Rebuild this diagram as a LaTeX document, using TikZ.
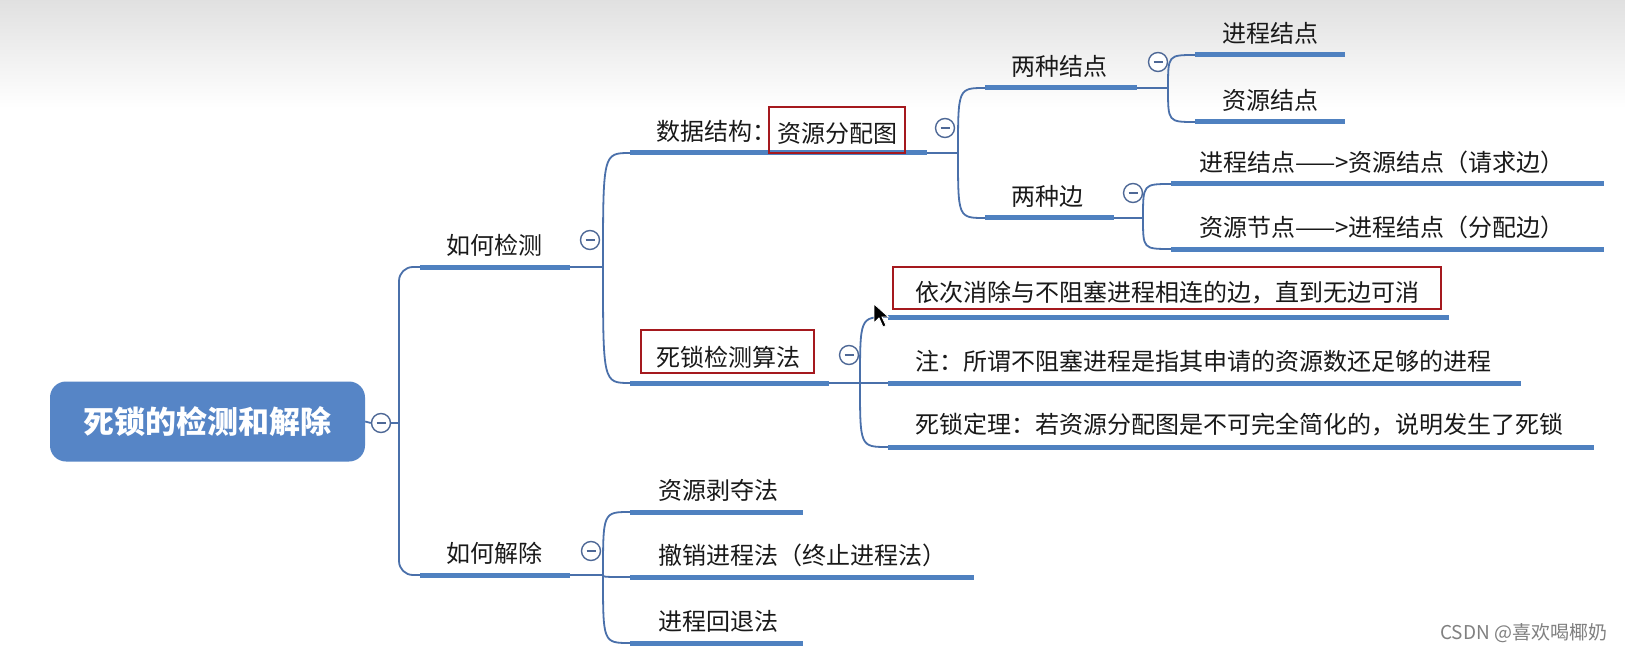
\documentclass[tikz,border=0pt]{standalone}
\usepackage{fontspec}
\setmainfont{Noto Sans CJK SC}
\usetikzlibrary{calc}
\definecolor{ulblue}{RGB}{79,129,192}
\definecolor{lnblue}{RGB}{74,112,170}
\definecolor{rootblue}{RGB}{86,133,198}
\definecolor{boxred}{RGB}{165,25,30}
\definecolor{circ}{RGB}{78,104,150}
\tikzset{
  lbl/.style={anchor=west, inner sep=0pt, font=\fontsize{24}{28}\selectfont, text=black!90},
  ctr/.style={anchor=center, inner sep=0pt, font=\fontsize{24}{28}\selectfont, text=black!90},
  ul/.style={line width=5pt, draw=ulblue},
  conn/.style={line width=1.8pt, draw=lnblue},
  fold/.style={circle, draw=circ, line width=1.4pt, fill=white, minimum size=19pt, inner sep=0pt,
    path picture={\draw[circ, line width=1.5pt] ($(path picture bounding box.center)+(-4.5pt,0)$) -- ($(path picture bounding box.center)+(4.5pt,0)$);}},
  redbox/.style={draw=boxred, line width=2pt, inner sep=0pt},
}
\newcommand\topic[6]{%
  \coordinate (#1-l) at (#2,#4); \coordinate (#1-r) at (#3,#4);
  \draw[ul] (#1-l) -- (#1-r);
  \node[lbl] (#1) at (#5,#4-22) {#6};}
\newcommand\ulbar[4]{%
  \coordinate (#1-l) at (#2,#4); \coordinate (#1-r) at (#3,#4);
  \draw[ul] (#1-l) -- (#1-r);}
\begin{document}
\begin{tikzpicture}[x=1pt,y=-1pt]
\useasboundingbox (0,0) rectangle (1625,655);
\fill[white] (0,0) rectangle (1625,655);
\shade[top color=black!12, bottom color=white] (0,0) rectangle (1625,108);

% root
\node[rectangle, rounded corners=16pt, fill=rootblue, minimum width=315pt, minimum height=80pt,
      text=white, font=\fontsize{31}{36}\selectfont\bfseries] (root) at (207.5,421.5) {死锁的检测和解除};
\node[fold] (c0) at (381,423) {};
\coordinate (tr) at (399,423);

% level 1
\topic{jc}{420}{570}{267}{446}{如何检测}
\topic{jx}{420}{570}{575}{446}{如何解除}

% level 2 under 如何检测
\topic{sj}{630}{927}{153}{656}{数据结构：}
\node[redbox, minimum width=136pt, minimum height=46pt] (sjbox) at (837,130) {};
\node[ctr] (sjt) at (837,133) {资源分配图};
\ulbar{sf}{630}{829}{383}
\node[redbox, minimum width=173pt, minimum height=43pt] (sfbox) at (727.5,351.5) {};
\node[ctr] (sf) at (728,357) {死锁检测算法};

% level 3 under 数据结构
\topic{ljd}{985}{1137}{88}{1011}{两种结点}
\topic{lb}{985}{1114}{218}{1011}{两种边}
\topic{jcd}{1195}{1345}{55}{1222}{进程结点}
\topic{zyd}{1195}{1345}{122}{1222}{资源结点}
\topic{qqb}{1171}{1604}{184}{1199}{进程结点——>资源结点（请求边）}
\topic{fpb}{1171}{1604}{249}{1199}{资源节点——>进程结点（分配边）}

% level 3 under 死锁检测算法
\ulbar{yc}{888}{1449}{317}
\node[redbox, minimum width=548pt, minimum height=42pt] (ycbox) at (1167,288) {};
\node[lbl] (yc) at (915,293) {依次消除与不阻塞进程相连的边，直到无边可消};
\topic{zhu}{888}{1521}{383}{915}{注：所谓不阻塞进程是指其申请的资源数还足够的进程}
\topic{dl}{888}{1594}{447}{915}{死锁定理：若资源分配图是不可完全简化的，说明发生了死锁}

% level 2 under 如何解除
\topic{bd}{630}{803}{512}{658}{资源剥夺法}
\topic{cx}{630}{974}{577}{658}{撤销进程法（终止进程法）}
\topic{ht}{630}{803}{643}{658}{进程回退法}

% connectors
\draw[conn] (root.east) -- (c0.west);
\draw[conn] (c0.east) -- (tr);
\draw[conn, rounded corners=14pt] (tr) |- (jc-l);
\draw[conn, rounded corners=14pt] (tr) |- (jx-l);

\coordinate (jc-j) at (603,267);
\draw[conn] (jc-r) -- (jc-j);
\foreach \c in {sj,sf} \draw[conn] (jc-j) .. controls (jc-j |- \c-l) .. (\c-l);

\coordinate (jx-j) at (603,575);
\draw[conn] (jx-r) -- (jx-j);
\foreach \c in {bd,cx,ht} \draw[conn] (jx-j) .. controls (jx-j |- \c-l) .. (\c-l);

\coordinate (sj-j) at (958,153);
\draw[conn] (sj-r) -- (sj-j);
\foreach \c in {ljd,lb} \draw[conn] (sj-j) .. controls (sj-j |- \c-l) .. (\c-l);

\coordinate (ljd-j) at (1168,88);
\draw[conn] (ljd-r) -- (ljd-j);
\foreach \c in {jcd,zyd} \draw[conn] (ljd-j) .. controls (ljd-j |- \c-l) .. (\c-l);

\coordinate (lb-j) at (1143,218);
\draw[conn] (lb-r) -- (lb-j);
\foreach \c in {qqb,fpb} \draw[conn] (lb-j) .. controls (lb-j |- \c-l) .. (\c-l);

\coordinate (sf-j) at (860,383);
\draw[conn] (sf-r) -- (sf-j);
\foreach \c in {yc,zhu,dl} \draw[conn] (sf-j) .. controls (sf-j |- \c-l) .. (\c-l);

% fold markers
\node[fold] (c1) at (590,240) {};
\node[fold] (c2) at (591,551) {};
\node[fold] (c3) at (945,128) {};
\node[fold] (c4) at (1158,62) {};
\node[fold] (c5) at (1133,193) {};
\node[fold] (c6) at (849,355) {};

% mouse pointer
\filldraw[fill=black, draw=white, line width=0.8pt] (874,304) -- (874,323) -- (879,318) -- (883,327) -- (886,325.5) -- (882,317) -- (888.5,317) -- cycle;

% watermark
\node[anchor=west, inner sep=0pt, font=\fontsize{19}{22}\selectfont, text=black!50] (wm) at (1440,633) {CSDN @喜欢喝椰奶};
\end{tikzpicture}
\end{document}
